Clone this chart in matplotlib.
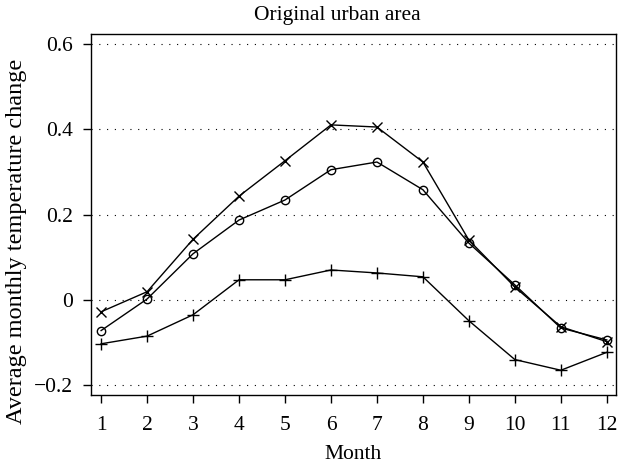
import matplotlib
matplotlib.use("Agg")
import matplotlib.pyplot as plt
from matplotlib.ticker import FixedLocator, FuncFormatter

months = list(range(1, 13))
series_x = [-0.028, 0.019, 0.142, 0.243, 0.326, 0.410, 0.405, 0.323, 0.140, 0.030, -0.063, -0.098]
series_o = [-0.072, 0.002, 0.108, 0.187, 0.234, 0.305, 0.323, 0.258, 0.133, 0.035, -0.066, -0.094]
series_p = [-0.103, -0.085, -0.035, 0.047, 0.047, 0.070, 0.063, 0.054, -0.049, -0.140, -0.165, -0.123]
y_ticks = [-0.2, 0, 0.2, 0.4, 0.6]

plt.rcParams['font.family'] = ['Liberation Serif', 'DejaVu Serif']
fs = 15.5

fig = plt.figure(figsize=(6.18, 4.65), dpi=100)
ax = fig.add_axes([91/618, 1 - 395/465, 525/618, 361/465])

ax.plot(months, series_x, color='black', lw=1, marker='x', ms=7, mew=1)
ax.plot(months, series_o, color='black', lw=1, marker='o', ms=6, mfc='none', mew=1)
ax.plot(months, series_p, color='black', lw=1, marker='+', ms=8, mew=1)

for yv in y_ticks:
    ax.axhline(yv, color='black', lw=0.8, ls=(0, (1, 6)), zorder=0)

ax.set_xlim(0.78, 12.2)
ax.set_ylim(-0.223, 0.623)
ax.set_xticks(months)
ax.yaxis.set_major_locator(FixedLocator(y_ticks))
ax.yaxis.set_major_formatter(FuncFormatter(lambda v, p: "0" if abs(v) < 1e-9 else f"{v:.1f}".replace("-", "\u2212")))
ax.tick_params(direction='out', length=6, width=1, labelsize=fs, pad=7)
ax.tick_params(axis='x', pad=9)
for s in ax.spines.values():
    s.set_linewidth(1)

ax.set_title("Original urban area", fontsize=fs, pad=10, x=0.47)
ax.set_xlabel("Month", fontsize=fs, labelpad=7)
ax.set_ylabel("Average monthly temperature change", fontsize=17.5)
ax.yaxis.set_label_coords(-0.121, 0.425)

fig.savefig("out.png", dpi=100)
